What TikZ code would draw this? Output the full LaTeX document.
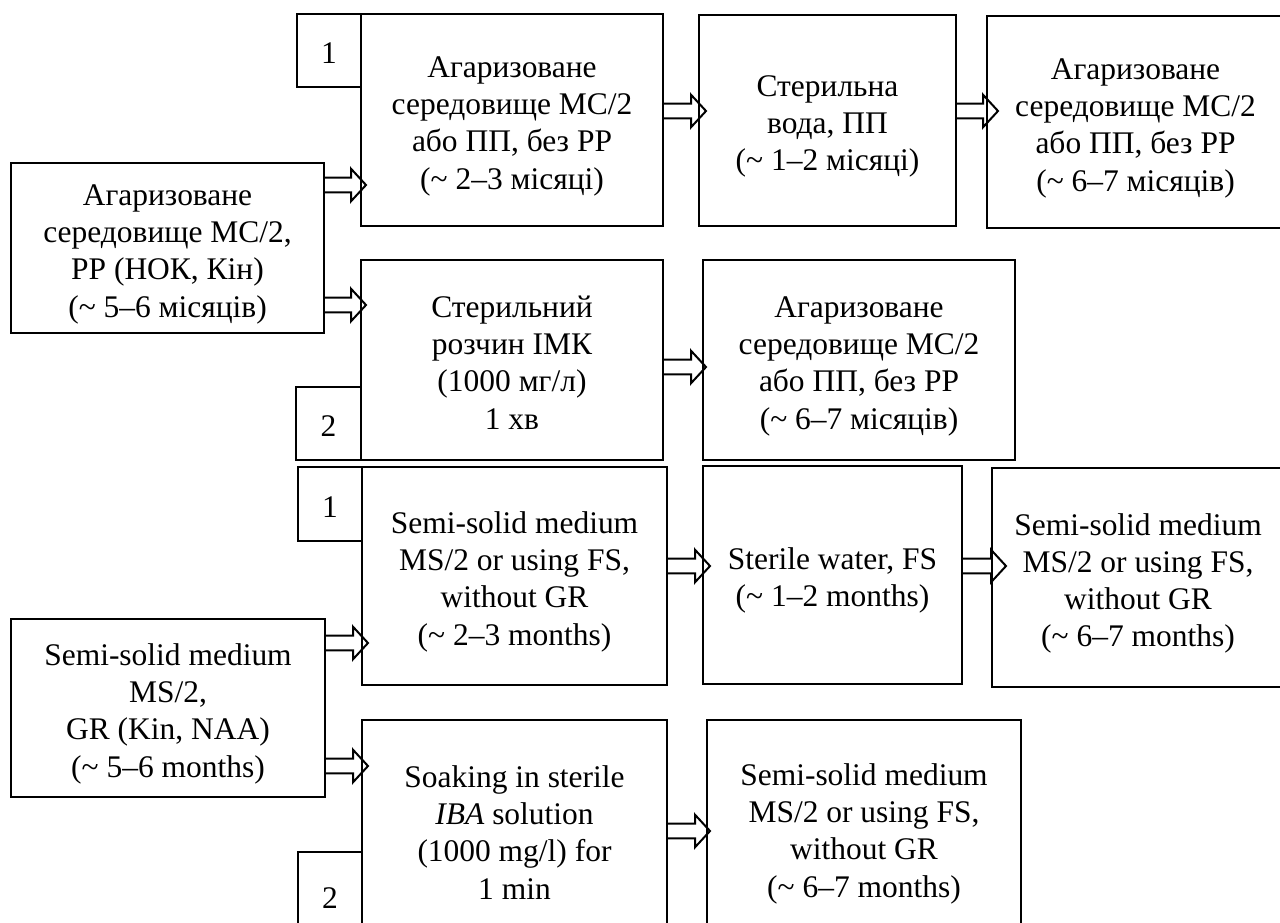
\documentclass[tikz,border=0pt]{standalone}
\usepackage{fontspec}
\setmainfont{Liberation Serif}
\usetikzlibrary{calc}
\newcommand{\tl}{\textasciitilde{}}
\newcommand{\bt}[1]{\raisebox{0pt}[\dimexpr\height+9pt\relax]{\begin{tabular}{@{}c@{}}#1\end{tabular}}}
\begin{document}
\begin{tikzpicture}[x=0.75pt,y=-0.75pt,
  box/.style={draw, line width=1.5pt, inner sep=0pt,
    font=\fontsize{23.6}{27.8}\selectfont},
  sz/.style 2 args={minimum width=#1*0.75pt, minimum height=#2*0.75pt},
  fat/.style={line width=1.5pt, line join=miter,
    to path={let \p1=(\tikztostart), \p2=(\tikztotarget) in
      (\x1,\y1+5.6pt) -- (\x2+#1-11.25pt,\y1+5.6pt) -- (\x2+#1-11.25pt,\y1+12.2pt)
      -- (\x2+#1,\y1) -- (\x2+#1-11.25pt,\y1-12.2pt) -- (\x2+#1-11.25pt,\y1-5.6pt)
      -- (\x1,\y1-5.6pt)}},
  fat/.default=4.5pt]
\useasboundingbox (0,0) rectangle (1280,922);
\clip (0,0) rectangle (1280,922);

% ---- Ukrainian half ----
\node[box, sz={64}{73}] (n1a) at (329,50.5) {\bt{1}};
\node[box, sz={302}{212}] (a1) at (512,120) {\bt{Агаризоване\\середовище МС/2\\або ПП, без РР\\(\tl{} 2–3 місяці)}};
\node[box, sz={257}{211}] (b1) at (827.5,120.5) {\bt{Стерильна\\вода, ПП\\(\tl{} 1–2 місяці)}};
\node[box, sz={297}{212}] (c1) at (1135.5,122) {\bt{Агаризоване\\середовище МС/2\\або ПП, без РР\\(\tl{} 6–7 місяців)}};
\node[box, sz={313}{170}] (l1) at (167.5,248) {\bt{Агаризоване\\середовище МС/2,\\РР (НОК, Кін)\\(\tl{} 5–6 місяців)}};
\node[box, sz={65}{73}] (n2a) at (328.5,423.5) {\bt{2}};
\node[box, sz={302}{200}] (a2) at (512,360) {\bt{Стерильний\\розчин ІМК\\(1000 мг/л)\\1 хв}};
\node[box, sz={312}{200}] (d1) at (859,360) {\bt{Агаризоване\\середовище МС/2\\або ПП, без РР\\(\tl{} 6–7 місяців)}};

% ---- English half ----
\node[box, sz={64}{74}] (n1b) at (330,504) {\bt{1}};
\node[box, sz={305}{218}] (e1) at (514.5,576) {\bt{Semi-solid medium\\MS/2 or using FS,\\without GR\\(\tl{} 2–3 months)}};
\node[box, sz={259}{218}] (f1) at (832.5,575) {\bt{Sterile water, FS\\(\tl{} 1–2 months)}};
\node[box, sz={292}{219}] (g1) at (1138,577.5) {\bt{Semi-solid medium\\MS/2 or using FS,\\without GR\\(\tl{} 6–7 months)}};
\node[box, sz={314}{178}] (l2) at (168,708) {\bt{Semi-solid medium\\MS/2,\\GR (Kin, NAA)\\(\tl{} 5–6 months)}};
\node[box, sz={64}{86}] (n2b) at (330,895) {\bt{2}};
\node[box, sz={305}{220}] (e2) at (514.5,830) {\bt{Soaking in sterile\\\textit{IBA} solution\\(1000 mg/l) for\\1 min}};
\node[box, sz={314}{216}] (h1) at (864,828) {\bt{Semi-solid medium\\MS/2 or using FS,\\without GR\\(\tl{} 6–7 months)}};

% arrow levels
\coordinate (ya) at (0,185);
\coordinate (yb) at (0,305);
\coordinate (yc) at (0,111);
\coordinate (yd) at (0,367);
\coordinate (ye) at (0,643);
\coordinate (yf) at (0,766);
\coordinate (yg) at (0,566);
\coordinate (yh) at (0,831);

\draw[fat] (l1.east |- ya) to (a1.west |- ya);
\draw[fat] (l1.east |- yb) to (a2.west |- yb);
\draw[fat=6pt] (a1.east |- yc) to (b1.west |- yc);
\draw[fat=9pt] (b1.east |- yc) to (c1.west |- yc);
\draw[fat=3pt] (a2.east |- yd) to (d1.west |- yd);

\draw[fat=5.25pt] (l2.east |- ye) to (e1.west |- ye);
\draw[fat=5.25pt] (l2.east |- yf) to (e2.west |- yf);
\draw[fat=6pt] (e1.east |- yg) to (f1.west |- yg);
\draw[fat=11.25pt] (f1.east |- yg) to (g1.west |- yg);
\draw[fat=3pt] (e2.east |- yh) to (h1.west |- yh);
\end{tikzpicture}
\end{document}
